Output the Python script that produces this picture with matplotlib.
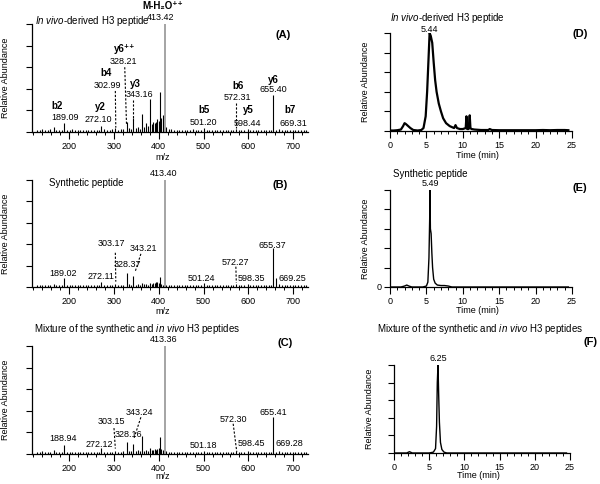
import matplotlib
matplotlib.use("Agg")
import matplotlib.pyplot as plt
from matplotlib.ticker import MultipleLocator

plt.rcParams['font.family'] = ['Liberation Sans', 'DejaVu Sans']
plt.rcParams['mathtext.fontset'] = 'custom'
plt.rcParams['mathtext.rm'] = 'Liberation Sans'
plt.rcParams['mathtext.it'] = 'Liberation Sans:italic'
plt.rcParams['mathtext.bf'] = 'Liberation Sans:bold'

# ---- MS/MS spectra (m/z, relative abundance) ----
mz_grid = [
    128, 134, 140, 146, 152, 158, 165, 171, 177, 183,
    189.1, 195, 201, 207, 213, 219, 225, 231, 237, 243,
    249, 255, 261, 266, 272.1, 278, 284, 290, 296, 303.0,
    309, 315, 321, 328.2, 333, 338, 343.2, 348, 353, 358,
    362, 367, 371, 376, 380, 384, 388, 391, 394, 397,
    400, 403, 406, 409, 413.4, 417, 422, 428, 434, 440,
    446, 452, 458, 464, 470, 476, 482, 488, 494, 501.2,
    507, 513, 519, 525, 531, 537, 543, 549, 555, 561,
    566, 572.3, 578, 584, 590, 598.4, 604, 610, 616, 622,
    628, 634, 640, 646, 650, 655.4, 661, 669.3, 675, 681,
    687, 693, 699, 705, 711, 717, 723, 729,
]
int_A = [
    2, 1.5, 3, 2, 1.5, 2.5, 5, 2, 1.5, 2,
    8, 2, 1.5, 2.5, 1.5, 2, 1.5, 2, 1.5, 2,
    1.5, 2, 1.5, 2, 6, 2.5, 1.5, 2, 2.5, 4,
    2, 3, 2.5, 9, 4, 3, 13, 4, 5, 3,
    17, 5, 8, 6, 31, 7, 9, 8, 9, 12,
    10, 37, 13, 16, 100, 5, 3, 2.5, 2, 1.5,
    2, 1.5, 2, 1.5, 2, 2.5, 1.5, 2, 2, 3.5,
    2, 1.5, 2, 1.5, 2, 1.5, 2, 1.5, 2, 1.5,
    2, 2.5, 1.5, 2, 1.5, 3, 2, 1.5, 2, 1.5,
    2, 1.5, 2, 1.5, 2, 34, 2, 3, 2, 1.5,
    2, 1.5, 2, 1.5, 2, 1.5, 2, 1.5,
]
int_B = [
    1.5, 2, 1.5, 2, 1.5, 2, 3, 1.5, 2, 1.5,
    8, 1.5, 2, 1.5, 2, 1.5, 2, 1.5, 2, 1.5,
    2, 1.5, 2, 1.5, 5, 2, 1.5, 2, 1.5, 3,
    1.5, 2, 2, 13, 3, 2, 10, 2, 3, 2,
    4, 2.5, 3, 2, 4, 3, 3.5, 4, 4.5, 5,
    4, 9, 3, 2, 100, 2, 1.5, 2, 1.5, 2,
    1.5, 2, 1.5, 2, 1.5, 2, 1.5, 2, 1.5, 3.5,
    1.5, 2, 1.5, 2, 1.5, 2, 1.5, 2, 1.5, 2,
    1.5, 2.5, 2, 1.5, 2, 3, 1.5, 2, 1.5, 2,
    1.5, 2, 1.5, 2, 1.5, 36, 8, 2.5, 1.5, 2,
    1.5, 2, 1.5, 2, 1.5, 2, 1.5, 2,
]
int_C = [
    2, 1.5, 2.5, 2, 1.5, 2, 4, 2, 1.5, 2,
    8, 2, 1.5, 2, 1.5, 2, 1.5, 2, 1.5, 2,
    1.5, 2, 1.5, 2, 6, 2, 1.5, 2, 1.5, 3,
    2, 2, 2.5, 11, 3, 2.5, 9, 3, 4, 3,
    17, 3, 4, 3, 6, 4, 4, 5, 4, 5,
    6, 16, 5, 4, 100, 3, 2, 1.5, 2, 1.5,
    2, 1.5, 2, 1.5, 2, 1.5, 2, 1.5, 2, 3,
    1.5, 2, 1.5, 2, 1.5, 2, 1.5, 2, 1.5, 2,
    1.5, 2.5, 1.5, 2, 1.5, 3, 2, 1.5, 2, 1.5,
    2, 1.5, 2, 1.5, 2, 34, 2, 3, 2, 1.5,
    2, 1.5, 2, 1.5, 2, 1.5, 2, 1.5,
]

# peak labels: (text, m/z, y, bold)
labels_A = [
    ("b2", 173, 24, True), ("189.09", 191, 13, False),
    ("y2", 269, 23, True), ("272.10", 265, 12, False),
    ("b4", 283, 55, True), ("302.99", 285, 43, False),
    ("y6\u207a\u207a", 323, 77, True), ("328.21", 320, 65, False),
    ("y3", 347, 44, True), ("343.16", 356, 35, False),
    ("M-H\u2082O\u207a\u207a", 408, 117, True), ("413.42", 405, 106, False),
    ("b5", 501, 20, True), ("501.20", 499, 9, False),
    ("b6", 577, 43, True), ("572.31", 575, 32, False),
    ("y5", 600, 20, True), ("598.44", 597, 8, False),
    ("y6", 655, 48, True), ("655.40", 655, 39, False),
    ("b7", 693, 20, True), ("669.31", 700, 8, False),
]
dashes_A = [((303, 38), (304, 4)), ((324, 60), (328, 6)),
            ((343, 30), (343, 11)), ((572, 27), (572, 4))]

labels_B = [
    ("413.40", 410, 106), ("303.17", 294, 41), ("343.21", 365, 36),
    ("328.37", 329, 21), ("189.02", 187, 13), ("272.11", 271, 10),
    ("501.24", 495, 8), ("572.27", 571, 23), ("598.35", 606, 7.5),
    ("655.37", 653, 39), ("669.25", 698, 7.5),
]
dashes_B = [((303, 32), (304, 5)), ((360, 31), (347, 14)),
            ((572, 19), (573, 4))]

labels_C = [
    ("413.36", 410, 106), ("343.24", 356, 38), ("303.15", 294, 30),
    ("328.16", 332, 18.5), ("188.94", 187, 14), ("272.12", 267, 9),
    ("501.18", 499, 8), ("572.30", 566, 32), ("598.45", 606, 10),
    ("655.41", 655, 38), ("669.28", 691, 10),
]
dashes_C = [((300, 24), (303, 5)), ((360, 34), (345, 15)),
            ((566, 28), (574, 2))]

# ---- chromatograms (time in min, relative abundance) ----
t_D = [0, 0.5, 1.0, 1.5, 1.8, 2.0, 2.2, 2.5, 2.8, 3.2,
       3.8, 4.3, 4.6, 4.9, 5.1, 5.3, 5.44, 5.6, 5.8, 6.0,
       6.2, 6.4, 6.7, 7.0, 7.3, 7.7, 8.2, 8.8, 9.0, 9.2,
       9.6, 10.0, 10.4, 10.5, 10.6, 10.8, 10.95, 11.05, 11.2, 11.6,
       12.5, 13.5, 13.7, 14, 15, 16, 17, 18, 19, 20,
       21, 22, 23, 24, 24.5]
i_D = [0.5, 0.5, 0.8, 1.5, 5, 8, 7, 5, 3, 1,
       0.5, 1, 3, 15, 40, 75, 100, 97, 90, 70,
       52, 40, 28, 20, 13, 8, 5, 3, 6, 3,
       2, 2, 3, 15, 2, 2, 16, 3, 2, 1.5,
       1, 1, 2, 1, 0.8, 0.8, 0.8, 0.8, 0.8, 0.8,
       1, 0.8, 1, 1, 0.8]
t_E = [0, 1.5, 2.0, 2.3, 2.6, 3.0, 4.5, 5.0, 5.2, 5.35,
       5.45, 5.49, 5.55, 5.65, 5.75, 5.85, 6.0, 6.2, 6.5, 7.0,
       7.5, 8.0, 8.5, 12, 18, 24.5]
i_E = [0, 0, 1, 2, 1, 0, 0, 1, 5, 30,
       70, 100, 60, 55, 35, 20, 8, 4, 2, 1.5,
       1.5, 1, 0, 0, 0, 0]
t_F = [0, 1.8, 2.2, 2.6, 5.0, 5.6, 5.9, 6.05, 6.15, 6.25,
       6.35, 6.45, 6.6, 6.8, 7.1, 7.5, 24.5]
i_F = [0, 0, 1.5, 0, 0, 1, 5, 30, 80, 100,
       65, 35, 12, 4, 1, 0, 0]

W, H = 600, 484
fig = plt.figure(figsize=(6, 4.84), dpi=100)


def px_axes(left, top, right, bottom):
    return fig.add_axes([left / W, 1 - bottom / H, (right - left) / W, (bottom - top) / H])


def style(ax):
    for s in ("top", "right"):
        ax.spines[s].set_visible(False)
    ax.spines["left"].set_linewidth(0.9)
    ax.spines["bottom"].set_linewidth(0.9)
    ax.set_ylim(0, 100)
    ax.set_yticks([0, 20, 40, 60, 80, 100])
    ax.set_yticklabels([])
    ax.tick_params(which="major", length=4, width=0.8, labelsize=6.5, pad=2)
    ax.tick_params(which="minor", length=2.5, width=0.7)


def spectrum(ax, inten, title, letter, title_y, letter_y, xl_y):
    style(ax)
    ax.set_xlim(117, 733)
    main = inten.index(max(inten))
    mz_small = [m for k, m in enumerate(mz_grid) if k != main]
    i_small = [v for k, v in enumerate(inten) if k != main]
    ax.vlines(mz_small, 0, i_small, color="black", lw=0.8)
    ax.vlines(mz_grid[main], 0, inten[main], color="#8c8c8c", lw=1.1)
    ax.xaxis.set_major_locator(MultipleLocator(100))
    ax.xaxis.set_minor_locator(MultipleLocator(20))
    ax.tick_params(axis="x", which="major", length=5)
    ax.set_xlabel("m/z", fontsize=6.5)
    ax.xaxis.set_label_coords(0.475, xl_y)
    ax.set_ylabel("Relative Abundance", fontsize=6.5)
    ax.yaxis.set_label_coords(-0.08, 0.5)
    ax.text(title[1], title_y, title[0], fontsize=7, ha="left", va="center", clip_on=False)
    ax.text(letter[1], letter_y, letter[0], fontsize=8, fontweight="bold",
            ha="center", va="center")


def dashed(ax, segs):
    for (x0, y0), (x1, y1) in segs:
        ax.plot([x0, x1], [y0, y1], color="black", lw=0.8, ls=(0, (2, 1.5)))


# Panel A
axA = px_axes(32, 24, 308, 132)
spectrum(axA, int_A, (r"$\it{In\ vivo}$-derived H3 peptide", 124), ("(A)", 678), 103, 90, -0.19)
for txt, x, y, b in labels_A:
    axA.text(x, y, txt, fontsize=7 if b else 6.5, fontweight="bold" if b else "normal",
             ha="center", va="center", clip_on=False)
dashed(axA, dashes_A)

# Panel B
axB = px_axes(32, 180, 308, 287)
spectrum(axB, int_B, ("Synthetic peptide", 155), ("(B)", 671), 97, 95, -0.19)
for txt, x, y in labels_B:
    axB.text(x, y, txt, fontsize=6.5, ha="center", va="center", clip_on=False)
dashed(axB, dashes_B)

# Panel C
axC = px_axes(32, 346, 308, 454)
spectrum(axC, int_C, (r"Mixture of the synthetic and $\it{in\ vivo}$ H3 peptides", 122),
         ("(C)", 682), 116, 103, -0.17)
for txt, x, y in labels_C:
    axC.text(x, y, txt, fontsize=6.5, ha="center", va="center", clip_on=False)
dashed(axC, dashes_C)


def chrom(ax, t, inten, lw, title, tx, ty, letter, lx, ly, ylx, xly, ply, peak):
    style(ax)
    ax.plot(t, inten, color="black", lw=lw)
    ax.set_xlim(0, 25)
    ax.xaxis.set_major_locator(MultipleLocator(5))
    ax.xaxis.set_minor_locator(MultipleLocator(1))
    ax.tick_params(axis="x", which="major", length=5)
    ax.set_xlabel("Time (min)", fontsize=6.5)
    ax.xaxis.set_label_coords(0.478, xly)
    ax.set_ylabel("Relative Abundance", fontsize=6.5)
    ax.yaxis.set_label_coords(ylx, 0.5)
    ax.text(tx, ty, title, transform=ax.transAxes, fontsize=7, ha="center", va="center")
    ax.text(lx, ly, letter, transform=ax.transAxes, fontsize=8, fontweight="bold",
            ha="center", va="center")
    ax.text(peak, ply, f"{peak:.2f}", fontsize=6.5, ha="center", va="center", clip_on=False)


axD = px_axes(390, 33, 572, 131)
axE = px_axes(390, 190, 572, 287)
axF = px_axes(394, 365, 570, 453)
chrom(axD, t_D, i_D, 1.6, r"$\it{In\ vivo}$-derived H3 peptide", 0.313, 1.153,
      "(D)", 1.044, 0.99, -0.11, -0.2, 104, 5.44)
chrom(axE, t_E, i_E, 1.0, "Synthetic peptide", 0.22, 1.165,
      "(E)", 1.044, 1.02, -0.11, -0.196, 107, 5.49)
axE.set_yticklabels(["0", "", "", "", "", ""])
chrom(axF, t_F, i_F, 1.0, r"Mixture of the synthetic and $\it{in\ vivo}$ H3 peptides",
      0.489, 1.41, "(F)", 1.114, 1.26, -0.114, -0.2, 107, 6.25)

fig.savefig("out.png", dpi=100)
